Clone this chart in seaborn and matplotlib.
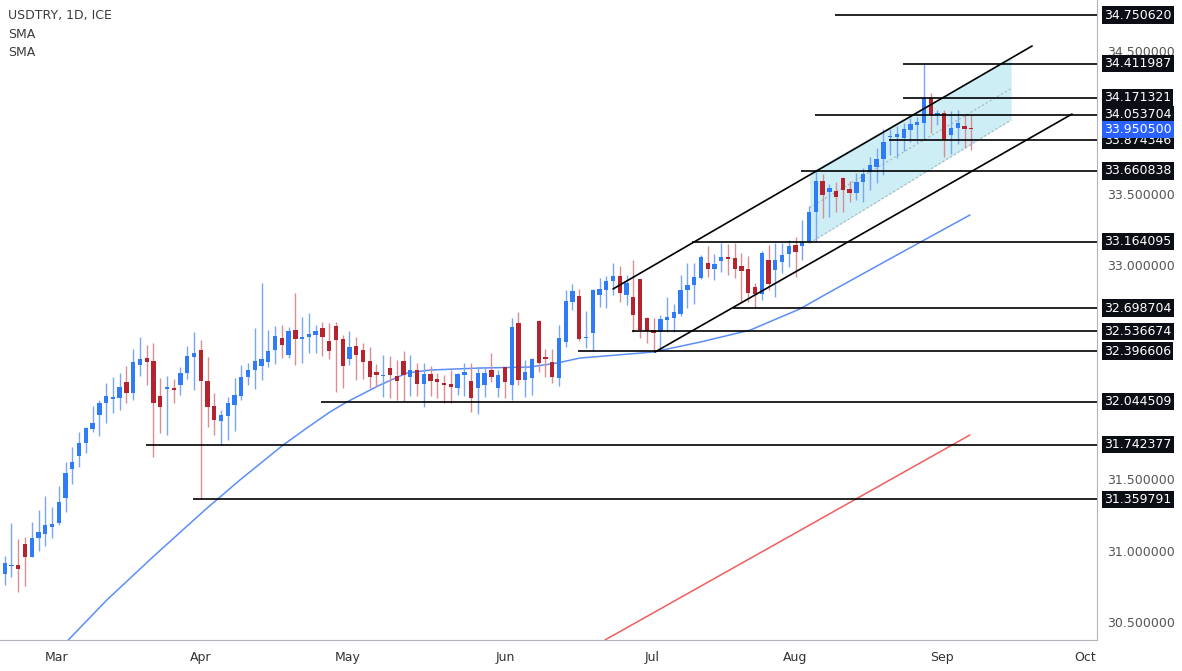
import numpy as np
import pandas as pd
import matplotlib
matplotlib.use("Agg")
import matplotlib.pyplot as plt
import seaborn as sns
from matplotlib.transforms import blended_transform_factory

# ---------------- data ----------------
opens = [30.834, 30.890, 30.899, 31.044, 30.957, 31.086, 31.116, 31.163, 31.195, 31.366,
         31.569, 31.663, 31.752, 31.852, 31.950, 32.032, 32.062, 32.067, 32.179, 32.106,
         32.300, 32.347, 32.328, 32.083, 32.130, 32.139, 32.160, 32.242, 32.354, 32.405,
         32.190, 32.015, 31.910, 31.945, 32.020, 32.083, 32.214, 32.265, 32.293, 32.323,
         32.405, 32.491, 32.367, 32.545, 32.482, 32.494, 32.510, 32.557, 32.468, 32.575,
         32.479, 32.340, 32.435, 32.405, 32.328, 32.253, 32.225, 32.277, 32.223, 32.328,
         32.214, 32.265, 32.167, 32.235, 32.202, 32.172, 32.165, 32.141, 32.230, 32.190,
         32.137, 32.160, 32.265, 32.137, 32.284, 32.160, 32.592, 32.192, 32.209, 32.608,
         32.358, 32.323, 32.209, 32.459, 32.741, 32.786, 32.487, 32.526, 32.793, 32.826,
         32.892, 32.926, 32.793, 32.780, 32.900, 32.627, 32.545, 32.533, 32.615, 32.627,
         32.661, 32.826, 32.864, 32.913, 33.015, 32.973, 33.031, 33.059, 33.053, 32.997,
         32.971, 32.844, 32.800, 33.036, 32.966, 33.024, 33.078, 33.141, 33.134, 33.164,
         33.374, 33.589, 33.514, 33.519, 33.612, 33.533, 33.503, 33.580, 33.654, 33.689,
         33.743, 33.899, 33.899, 33.892, 33.946, 33.981, 33.993, 34.168, 34.051, 34.063,
         33.911, 33.962, 33.976, 33.958]
highs = [30.964, 31.191, 31.079, 31.093, 31.202, 31.284, 31.382, 31.303, 31.452, 31.623,
         31.724, 31.833, 31.868, 32.013, 32.055, 32.176, 32.218, 32.242, 32.293, 32.410,
         32.494, 32.440, 32.456, 32.207, 32.223, 32.204, 32.288, 32.433, 32.533, 32.475,
         32.358, 32.106, 31.985, 32.074, 32.207, 32.300, 32.316, 32.557, 32.872, 32.545,
         32.573, 32.580, 32.568, 32.807, 32.634, 32.666, 32.580, 32.603, 32.596, 32.603,
         32.510, 32.540, 32.498, 32.456, 32.424, 32.307, 32.370, 32.360, 32.335, 32.398,
         32.370, 32.312, 32.312, 32.293, 32.242, 32.230, 32.265, 32.242, 32.312, 32.312,
         32.288, 32.288, 32.382, 32.265, 32.288, 32.627, 32.673, 32.335, 32.347, 32.615,
         32.410, 32.410, 32.580, 32.826, 32.868, 32.833, 32.678, 32.831, 32.907, 32.924,
         33.013, 32.994, 32.931, 33.036, 32.905, 32.638, 32.627, 32.650, 32.779, 32.727,
         32.931, 33.017, 33.015, 33.074, 33.134, 33.078, 33.157, 33.148, 33.157, 33.087,
         33.062, 32.872, 33.102, 33.141, 33.153, 33.153, 33.176, 33.195, 33.316, 33.414,
         33.659, 33.636, 33.566, 33.584, 33.619, 33.589, 33.643, 33.678, 33.759, 33.818,
         33.953, 33.953, 33.976, 33.993, 34.032, 34.039, 34.412, 34.205, 34.086, 34.086,
         34.079, 34.086, 34.051, 34.051]
lows = [30.759, 30.817, 30.708, 30.752, 30.957, 30.999, 31.032, 31.086, 31.179, 31.272,
        31.466, 31.583, 31.686, 31.833, 31.803, 31.896, 31.966, 31.985, 32.036, 32.055,
        32.223, 32.160, 31.658, 31.822, 31.810, 32.036, 32.090, 32.200, 32.125, 31.360,
        31.868, 31.810, 31.740, 31.775, 31.840, 32.055, 32.160, 32.130, 32.195, 32.288,
        32.307, 32.347, 32.347, 32.300, 32.316, 32.382, 32.382, 32.360, 32.340, 32.113,
        32.137, 32.300, 32.195, 32.200, 32.137, 32.148, 32.076, 32.072, 32.055, 32.048,
        32.083, 32.083, 32.008, 32.083, 32.067, 32.036, 32.032, 32.090, 32.083, 31.973,
        31.955, 32.078, 32.183, 32.074, 32.067, 32.055, 32.160, 32.078, 32.090, 32.253,
        32.218, 32.174, 32.153, 32.428, 32.685, 32.465, 32.417, 32.398, 32.709, 32.697,
        32.790, 32.744, 32.720, 32.528, 32.489, 32.452, 32.397, 32.410, 32.533, 32.533,
        32.643, 32.697, 32.727, 32.900, 32.920, 32.896, 32.952, 32.931, 32.910, 32.752,
        32.741, 32.697, 32.755, 32.826, 32.779, 32.943, 32.985, 32.919, 33.036, 33.155,
        33.164, 33.328, 33.339, 33.374, 33.374, 33.444, 33.456, 33.444, 33.526, 33.573,
        33.631, 33.771, 33.748, 33.799, 33.864, 33.864, 33.874, 33.923, 33.981, 33.759,
        33.776, 33.846, 33.822, 33.806]
closes = [30.911, 30.899, 30.871, 30.957, 31.086, 31.132, 31.179, 31.186, 31.342, 31.541,
          31.618, 31.752, 31.857, 31.892, 32.036, 32.083, 32.074, 32.148, 32.106, 32.319,
          32.340, 32.323, 32.036, 32.004, 32.148, 32.125, 32.242, 32.363, 32.382, 32.190,
          32.008, 31.915, 31.950, 32.036, 32.090, 32.218, 32.265, 32.328, 32.340, 32.398,
          32.503, 32.440, 32.540, 32.482, 32.498, 32.517, 32.540, 32.494, 32.395, 32.475,
          32.293, 32.424, 32.370, 32.323, 32.218, 32.230, 32.230, 32.230, 32.190, 32.230,
          32.265, 32.167, 32.235, 32.190, 32.179, 32.160, 32.148, 32.235, 32.253, 32.067,
          32.242, 32.242, 32.216, 32.230, 32.181, 32.564, 32.192, 32.253, 32.340, 32.314,
          32.340, 32.218, 32.491, 32.748, 32.821, 32.480, 32.498, 32.826, 32.831, 32.892,
          32.926, 32.802, 32.878, 32.650, 32.542, 32.538, 32.522, 32.620, 32.634, 32.673,
          32.829, 32.864, 32.917, 33.055, 32.973, 33.008, 33.059, 33.041, 32.971, 32.961,
          32.802, 32.797, 33.085, 32.868, 33.036, 33.071, 33.134, 33.094, 33.164, 33.374,
          33.589, 33.491, 33.538, 33.479, 33.526, 33.503, 33.584, 33.638, 33.701, 33.741,
          33.864, 33.904, 33.916, 33.953, 33.986, 34.004, 34.168, 34.051, 34.063, 33.876,
          33.962, 33.997, 33.953, 33.9505]

# 50-period SMA (blue) and 200-period SMA (red), read as (bar, value) points
sma_fast_bar = [9.4, 15.1, 21.9, 29.6, 34.8, 41.2, 44.7, 48.1, 50.6, 55.5, 59.5, 62.9,
                70.3, 77.7, 81.7, 85.1, 95.9, 102.9, 110.3, 117.6, 122.1, 132.0, 142.8]
sma_fast_val = [30.374, 30.654, 30.955, 31.284, 31.495, 31.740, 31.859, 31.971, 32.041,
                32.160, 32.244, 32.265, 32.279, 32.286, 32.314, 32.349, 32.391, 32.461,
                32.545, 32.692, 32.812, 33.071, 33.351]
sma_slow_bar = [88.8, 115.8, 142.8]
sma_slow_val = [30.374, 31.092, 31.810]

# horizontal levels
level_prices = [34.750620, 34.411987, 34.171321, 34.053704, 33.874346, 33.660838,
                33.164095, 32.698704, 32.536674, 32.396606, 32.044509, 31.742377, 31.359791]
level_start_bar = [122.8, 132.9, 132.9, 119.9, 130.8, 117.8,
                   101.7, 107.7, 92.8, 84.8, 46.8, 20.9, 27.9]
last_price = 33.950500

# trend lines (bar, price)
upper_line_bar = [90.0, 152.0]
upper_line_val = [32.833, 34.535]
lower_line_bar = [96.2, 157.9]
lower_line_val = [32.391, 34.058]

# regression channel
channel_bar = [119.1, 148.9]
channel_top = [33.652, 34.458]
channel_bottom = [33.155, 34.017]

month_labels = ["Mar", "Apr", "May", "Jun", "Jul", "Aug", "Sep", "Oct"]
month_bar = [7.6, 29.0, 50.8, 74.0, 95.8, 116.9, 138.7, 159.8]
# axis price ticks that stay visible (the others sit under the level tags)
ytick_vals = [30.5, 31.0, 31.5, 33.0, 33.5, 34.5]

# ---------------- figure ----------------
sns.set_theme(style="white")
plt.rcParams["font.family"] = ["DejaVu Sans"]

W, H = 1182, 671
fig = plt.figure(figsize=(W / 100, H / 100), dpi=100)
fig.patch.set_facecolor("white")
ax_w, ax_h = 1097, 640
ax = fig.add_axes([0, (H - ax_h) / H, ax_w / W, ax_h / H])
ax.set_facecolor("white")

df = pd.DataFrame({"o": opens, "h": highs, "l": lows, "c": closes})
df["bar"] = np.arange(len(df))
up = df["c"] >= df["o"]

UP, DOWN = "#2f7cf6", "#b5232f"
UP_W, DOWN_W = "#7aa6f5", "#d98d95"

# regression channel fill
ax.fill_between(channel_bar, channel_bottom, channel_top, color="#cdeef5",
                linewidth=0, zorder=0.5)
mid = [(a + b) / 2 for a, b in zip(channel_top, channel_bottom)]
ax.plot(channel_bar, mid, color="#a9b4bb", lw=0.8, ls=(0, (2, 2)), zorder=0.6)
ax.plot(channel_bar, channel_bottom, color="#a9b4bb", lw=0.8, ls=(0, (2, 2)), zorder=0.6)

# SMAs
sns.lineplot(x=sma_fast_bar, y=sma_fast_val, ax=ax, color="#5b8ef7", linewidth=1.1,
             zorder=1, estimator=None)
sns.lineplot(x=sma_slow_bar, y=sma_slow_val, ax=ax, color="#f25d5d", linewidth=1.1,
             zorder=1, estimator=None)

# candles
ax.vlines(df["bar"], df["l"], df["h"], colors=np.where(up, UP_W, DOWN_W),
          linewidth=1.0, zorder=2)
body_lo = np.minimum(df["o"], df["c"])
body_h = np.maximum(np.abs(df["c"] - df["o"]), 0.007)
ax.bar(df["bar"], body_h, bottom=body_lo, width=0.64,
       color=np.where(up, UP, DOWN), linewidth=0, zorder=3)

# levels
x_right = 161.6
for p, s in zip(level_prices, level_start_bar):
    ax.plot([s, x_right + 1], [p, p], color="black", lw=1.2, zorder=4,
            solid_capstyle="butt")

# trend lines
ax.plot(upper_line_bar, upper_line_val, color="black", lw=1.2, zorder=4)
ax.plot(lower_line_bar, lower_line_val, color="black", lw=1.2, zorder=4)

ax.set_xlim(-0.7, x_right)
ax.set_ylim(30.374, 34.857)

# axes styling
for side in ["top", "left"]:
    ax.spines[side].set_visible(False)
for side in ["right", "bottom"]:
    ax.spines[side].set_color("#b2b5be")
    ax.spines[side].set_linewidth(0.8)

ax.yaxis.tick_right()
ax.set_yticks(ytick_vals)
ax.set_yticklabels([f"{v:.6f}" for v in ytick_vals])
ax.tick_params(axis="y", length=0, pad=7, labelsize=9, labelcolor="#555555")
ax.set_xticks(month_bar)
ax.set_xticklabels(month_labels)
ax.tick_params(axis="x", length=0, pad=8, labelsize=9, labelcolor="#333333")
ax.set_xlabel("")
ax.set_ylabel("")
ax.grid(False)

# price labels on right axis
trans = blended_transform_factory(ax.transAxes, ax.transData)
for p in level_prices:
    ax.text(1 + 7 / ax_w, p, f"{p:.6f}", transform=trans, ha="left", va="center",
            fontsize=9, color="white", clip_on=False, zorder=20,
            bbox=dict(boxstyle="square,pad=0.18", fc="#0c0e15", ec="none"))
ax.text(1 + 7 / ax_w, last_price, f"{last_price:.6f}", transform=trans, ha="left",
        va="center", fontsize=9, color="white", clip_on=False, zorder=21,
        bbox=dict(boxstyle="square,pad=0.18", fc="#2962ff", ec="none"))

# legend-like header
for i, t in enumerate(["USDTRY, 1D, ICE", "SMA", "SMA"]):
    fig.text(8 / W, 1 - (16 + 18 * i) / H, t, ha="left", va="center",
             fontsize=9, color="#3c3c3c")

fig.savefig("out.png", dpi=100)
